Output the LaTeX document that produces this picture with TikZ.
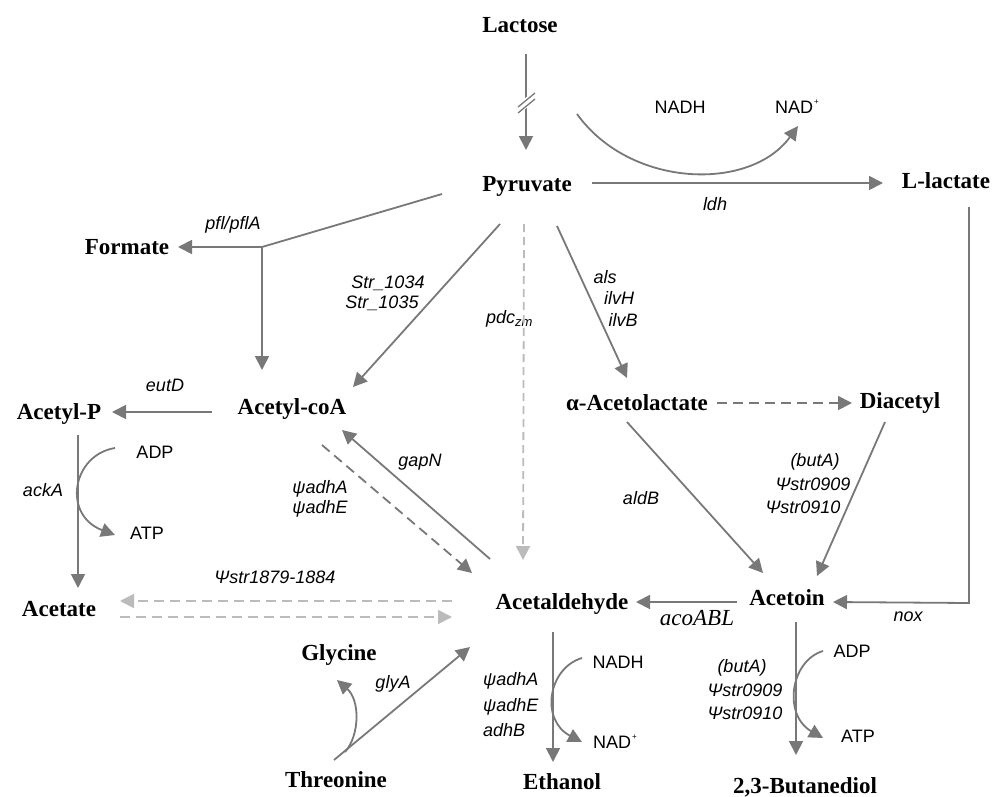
\documentclass[tikz,border=0pt]{standalone}
\usepackage{fontspec}
\setmainfont{Liberation Serif}
\setsansfont{Liberation Sans}
\usetikzlibrary{arrows.meta}
\definecolor{dk}{HTML}{787878}
\definecolor{lt}{HTML}{BBBBBB}
\newcommand{\plusup}{\raisebox{9pt}{\fontsize{8}{8}\selectfont\hspace{1pt}+}}
\begin{document}
\begin{tikzpicture}[x=1pt,y=-1pt,
  met/.style={font=\fontsize{23}{26}\selectfont\bfseries, inner sep=0pt, text height=15pt, text depth=0pt},
  lab/.style={font=\sffamily\itshape\fontsize{18}{21}\selectfont, inner sep=0pt, text height=13pt, text depth=0pt},
  cof/.style={font=\sffamily\fontsize{18}{21}\selectfont, inner sep=0pt, text height=13pt, text depth=0pt},
  conn/.style={draw=dk, line width=1.8pt},
  arr/.style={conn, -{Triangle[length=14pt,width=14pt]}},
  darr/.style={arr, dash pattern=on 10pt off 6pt},
  larr/.style={draw=lt, line width=1.8pt, -{Triangle[length=14pt,width=14pt]}, dash pattern=on 10pt off 6pt},
]
\useasboundingbox (0,0) rectangle (1003,797);

% metabolites
\node[met] (lac) at (520,25) {Lactose};
\node[met] (pyr) at (527,184) {Pyruvate};
\node[met] (llac) at (946,181) {L-lactate};
\node[met] (form) at (127,247) {Formate};
\node[met] (acoa) at (292,407) {Acetyl-coA};
\node[met] (acp) at (59,412) {Acetyl-P};
\node[met] (alac) at (637,403) {α-Acetolactate};
\node[met] (diac) at (900,401) {Diacetyl};
\node[met] (acet) at (59,609) {Acetate};
\node[met] (acald) at (562,602) {Acetaldehyde};
\node[met] (acetoin) at (787,598) {Acetoin};
\node[met] (gly) at (339,653) {Glycine};
\node[met] (thr) at (336,780) {Threonine};
\node[met] (eth) at (562,782) {Ethanol};
\node[met] (btd) at (805,786) {2,3-Butanediol};

% enzyme labels
\node[lab] (l1) at (715,204) {ldh};
\node[lab] (l2) at (233,223) {pfl/pflA};
\node[lab] (l3) at (388,282) {Str\_1034};
\node[lab] (l4) at (382,302) {Str\_1035};
\node[lab, anchor=west] (l5) at (486,317) {pdc\raisebox{-3pt}{\fontsize{13}{13}\selectfont zm}};
\node[lab] (l6) at (605,277) {als};
\node[lab] (l7) at (619,298) {ilvH};
\node[lab] (l8) at (623,320) {ilvB};
\node[lab] (l9) at (165,385) {eutD};
\node[lab] (l10) at (43,490) {ackA};
\node[lab] (l11) at (420,460) {gapN};
\node[lab] (l12) at (320,487) {ψadhA};
\node[lab] (l13) at (320,507) {ψadhE};
\node[lab] (l14) at (641,498) {aldB};
\node[lab] (l15) at (815,460) {(butA)};
\node[lab] (l16) at (813,484) {Ψstr0909};
\node[lab] (l17) at (803,507) {Ψstr0910};
\node[lab] (l18) at (275,577) {Ψstr1879-1884};
\node[font=\fontsize{23}{26}\selectfont\itshape, inner sep=0pt, text height=15pt, text depth=0pt] (l19) at (697,618) {acoABL};
\node[lab] (l20) at (908,615) {nox};
\node[lab] (l21) at (393,682) {glyA};
\node[lab, anchor=west] (l22) at (483,679) {ψadhA};
\node[lab, anchor=west] (l23) at (483,705) {ψadhE};
\node[lab, anchor=west] (l24) at (483,730) {adhB};
\node[lab] (l25) at (742,666) {(butA)};
\node[lab] (l26) at (745,690) {Ψstr0909};
\node[lab] (l27) at (745,713) {Ψstr0910};

% cofactors
\node[cof] (c1) at (680,107) {NADH};
\node[cof, anchor=west] (c2) at (775,107) {NAD\plusup};
\node[cof] (c3) at (155,452) {ADP};
\node[cof] (c4) at (147,533) {ATP};
\node[cof] (c5) at (618,662) {NADH};
\node[cof, anchor=west] (c6) at (593,742) {NAD\plusup};
\node[cof] (c7) at (852,651) {ADP};
\node[cof] (c8) at (858,736) {ATP};

% connector end points
\coordinate (a1) at (526,54);   \coordinate (a2) at (526,150);
\coordinate (b1) at (577,114);  \coordinate (b2) at (798,126);
\coordinate (p1) at (592,183);  \coordinate (p2) at (883,183);
\coordinate (n1) at (969,207);  \coordinate (n2) at (969,603); \coordinate (n3) at (833,602);
\coordinate (f1) at (442,194);  \coordinate (fj) at (262,247);
\coordinate (f2) at (178,247);  \coordinate (f3) at (262,370);
\coordinate (s1) at (500,224);  \coordinate (s2) at (353,387);
\coordinate (d1) at (524,224);  \coordinate (d2) at (523,560);
\coordinate (al1) at (557,226); \coordinate (al2) at (627,378);
\coordinate (dc1) at (717,403); \coordinate (dc2) at (852,403);
\coordinate (e1) at (212,412);  \coordinate (e2) at (112,412);
\coordinate (k1) at (78,435);   \coordinate (k2) at (78,588);
\coordinate (k3) at (115,448);  \coordinate (k4) at (115,535);
\coordinate (g1) at (490,559);  \coordinate (g2) at (342,430);
\coordinate (h1) at (322,445);  \coordinate (h2) at (472,573);
\coordinate (t1) at (452,601);  \coordinate (t2) at (120,601);
\coordinate (t3) at (120,617);  \coordinate (t4) at (452,617);
\coordinate (ab1) at (627,422); \coordinate (ab2) at (763,573);
\coordinate (bu1) at (885,422); \coordinate (bu2) at (817,576);
\coordinate (ac1) at (737,602); \coordinate (ac2) at (636,602);
\coordinate (th1) at (334,760); \coordinate (th2) at (470,647);
\coordinate (gy1) at (345,752); \coordinate (gy2) at (337,680);
\coordinate (et1) at (553,632); \coordinate (et2) at (553,762);
\coordinate (na1) at (582,658); \coordinate (na2) at (582,742);
\coordinate (bd1) at (796,622); \coordinate (bd2) at (796,755);
\coordinate (ad1) at (823,651); \coordinate (ad2) at (823,738);

% Lactose -> Pyruvate with break
\draw[arr] (a1) -- (a2);
\fill[white] (518,104) -- (535,90) -- (535,101) -- (518,115) -- cycle;
\draw[dk, line width=1.3pt] (518,107) -- (535,93);
\draw[dk, line width=1.3pt] (518,113) -- (535,99);

% NADH -> NAD+ (ldh)
\draw[arr] (b1) .. controls (630,188) and (750,192) .. (b2);
\draw[arr] (p1) -- (p2);
% L-lactate -> Acetoin (nox)
\draw[arr] (n1) -- (n2) -- (n3);
% pfl
\draw[conn] (f1) -- (fj);
\draw[arr] (fj) -- (f2);
\draw[arr] (fj) -- (f3);
% Str
\draw[arr] (s1) -- (s2);
% pdc
\draw[larr, dash pattern=on 8pt off 5pt] (d1) -- (d2);
% als
\draw[arr] (al1) -- (al2);
\draw[darr] (dc1) -- (dc2);
% eutD
\draw[arr] (e1) -- (e2);
% ackA
\draw[arr] (k1) -- (k2);
\draw[arr] (k3) .. controls (72,455) and (62,515) .. (k4);
% gapN and adh
\draw[arr] (g1) -- (g2);
\draw[darr] (h1) -- (h2);
% acetate
\draw[larr] (t1) -- (t2);
\draw[larr] (t3) -- (t4);
% aldB, butA
\draw[arr] (ab1) -- (ab2);
\draw[arr] (bu1) -- (bu2);
% acoABL
\draw[arr] (ac1) -- (ac2);
% threonine
\draw[arr] (th1) -- (th2);
\draw[arr] (gy1) .. controls (360,735) and (360,700) .. (gy2);
% ethanol
\draw[arr] (et1) -- (et2);
\draw[arr] (na1) .. controls (548,668) and (540,720) .. (na2);
% butanediol
\draw[arr] (bd1) -- (bd2);
\draw[arr] (ad1) .. controls (790,661) and (783,715) .. (ad2);
\end{tikzpicture}
\end{document}
